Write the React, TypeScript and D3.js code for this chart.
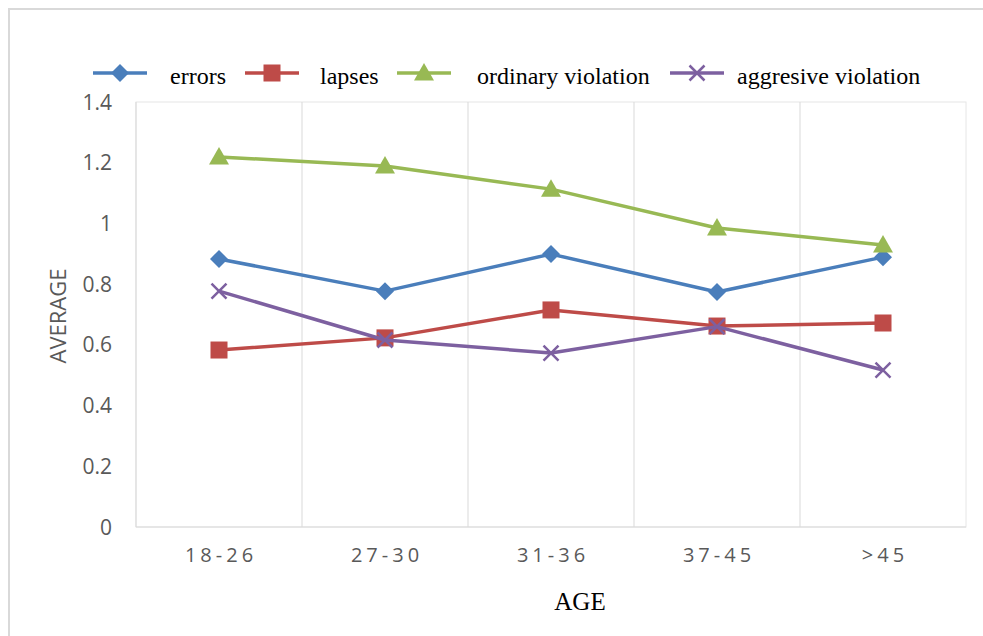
import React from "react";
import * as d3 from "d3";

const categories = ["18-26", "27-30", "31-36", "37-45", ">45"];
const errors = [0.883, 0.777, 0.899, 0.774, 0.889];
const lapses = [0.583, 0.623, 0.715, 0.662, 0.672];
const ordinaryViolation = [1.219, 1.189, 1.113, 0.985, 0.929];
const aggressiveViolation = [0.777, 0.616, 0.573, 0.66, 0.517];
const yTicks = [0, 0.2, 0.4, 0.6, 0.8, 1, 1.2, 1.4];

const seriesDefs = [
  { name: "errors", values: errors, color: "#4A7EBB", marker: "diamond", lx: 93, tx: 170 },
  { name: "lapses", values: lapses, color: "#BE4B48", marker: "square", lx: 245, tx: 320 },
  { name: "ordinary violation", values: ordinaryViolation, color: "#98B954", marker: "triangle", lx: 397, tx: 477 },
  { name: "aggresive violation", values: aggressiveViolation, color: "#7D60A0", marker: "x", lx: 670, tx: 737 },
];

function Marker({ type, x, y, color }: { type: string; x: number; y: number; color: string }) {
  if (type === "diamond") {
    const s = 9;
    return <path d={`M${x},${y - s}L${x + s},${y}L${x},${y + s}L${x - s},${y}Z`} fill={color} />;
  }
  if (type === "square") {
    const s = 8.5;
    return <rect x={x - s} y={y - s} width={2 * s} height={2 * s} fill={color} />;
  }
  if (type === "triangle") {
    return <path d={`M${x},${y - 10}L${x + 10},${y + 7.5}L${x - 10},${y + 7.5}Z`} fill={color} />;
  }
  const s = 7.5;
  return (
    <path d={`M${x - s},${y - s}L${x + s},${y + s}M${x - s},${y + s}L${x + s},${y - s}`} stroke={color} strokeWidth={2.5} fill="none" />
  );
}

export default function App() {
  const W = 983, H = 636;
  const left = 136, right = 966, top = 102, bottom = 527;
  const x = d3.scaleBand<string>().domain(categories).range([left, right]);
  const y = d3.scaleLinear().domain([0, 1.4]).range([bottom, top]);
  const cx = (c: string) => (x(c) as number) + x.bandwidth() / 2;
  const line = d3.line<[number, number]>().x((d) => d[0]).y((d) => d[1]);
  const sans = "'Open Sans', 'DejaVu Sans', sans-serif";
  const serif = "'Liberation Serif', 'DejaVu Serif', serif";

  return (
    <svg width={W} height={H} style={{ position: "absolute", left: 0, top: 0 }}>
      <rect x={0} y={0} width={W} height={H} fill="#fff" />
      <path d={`M9,${H}V9H${W}`} fill="none" stroke="#d9d9d9" strokeWidth={2} />
      {/* plot area border */}
      <rect x={left} y={top} width={right - left} height={bottom - top} fill="none" stroke="#e6e6e6" strokeWidth={1} />
      {/* vertical gridlines */}
      {categories.slice(1).map((c) => (
        <line key={c} x1={x(c)} x2={x(c)} y1={top} y2={bottom} stroke="#d9d9d9" strokeWidth={1} />
      ))}
      <line x1={left} x2={right} y1={bottom} y2={bottom} stroke="#d9d9d9" strokeWidth={1.2} />
      <line x1={left} x2={left} y1={top} y2={bottom} stroke="#d9d9d9" strokeWidth={1} />
      {/* y ticks */}
      {yTicks.map((t) => (
        <text key={t} x={112} y={y(t)} dy="0.36em" textAnchor="end" fontFamily={sans} fontSize={21} fill="#595959">
          {String(t)}
        </text>
      ))}
      {/* x ticks */}
      {categories.map((c) => (
        <text key={c} x={cx(c) + 2} y={562} textAnchor="middle" fontFamily={sans} fontSize={20} letterSpacing={4} fill="#595959">
          {c}
        </text>
      ))}
      <text transform={`translate(66,${316}) rotate(-90)`} textAnchor="middle" fontFamily={sans} fontSize={22} fill="#595959">
        AVERAGE
      </text>
      <text x={580} y={610} textAnchor="middle" fontFamily={serif} fontSize={25} fill="#000">
        AGE
      </text>
      {/* series */}
      {seriesDefs.map((s) => {
        const pts: [number, number][] = categories.map((c, i) => [cx(c), y(s.values[i])]);
        return (
          <g key={s.name}>
            <path d={line(pts) || ""} fill="none" stroke={s.color} strokeWidth={3.5} strokeLinejoin="round" />
            {pts.map((p, i) => (
              <Marker key={i} type={s.marker} x={p[0]} y={p[1]} color={s.color} />
            ))}
          </g>
        );
      })}
      {/* legend */}
      {seriesDefs.map((s) => (
        <g key={s.name}>
          <line x1={s.lx} x2={s.lx + 54} y1={73} y2={73} stroke={s.color} strokeWidth={3.5} />
          <Marker type={s.marker} x={s.lx + 27} y={73} color={s.color} />
          <text x={s.tx} y={84} fontFamily={serif} fontSize={24} fill="#000">
            {s.name}
          </text>
        </g>
      ))}
    </svg>
  );
}
